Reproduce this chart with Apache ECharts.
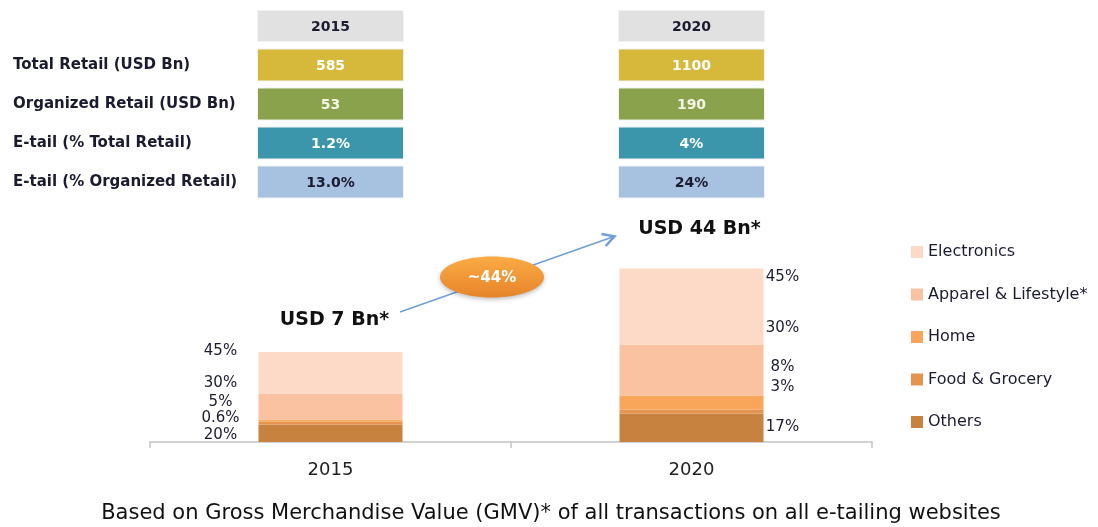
<!DOCTYPE html>
<html>
<head>
<meta charset="utf-8">
<script src="https://cdn.jsdelivr.net/npm/echarts@6/dist/echarts.min.js"></script>
<style>
  html, body { margin: 0; padding: 0; background: #fff; }
  #chart { width: 1098px; height: 527px; }
</style>
</head>
<body>
<div id="chart"></div>
<script>
// data
const years = ['2015', '2020'];
// stacking order, bottom to top
const segments = ['Others', 'Food & Grocery', 'Home', 'Apparel & Lifestyle*', 'Electronics'];
// drawn segment sizes (bars in the source are not to scale with the totals)
const size2015 = [17.5, 3, 2, 26, 41.5];
const size2020 = [28.5, 4, 14, 51, 76];
const share2015 = ['20%', '0.6%', '5%', '30%', '45%'];
const share2020 = ['17%', '3%', '8%', '30%', '45%'];
const totals = [7, 44];
const growth = '~44%';

const tableRows = ['Total Retail (USD Bn)', 'Organized Retail (USD Bn)', 'E-tail (% Total Retail)', 'E-tail (% Organized Retail)'];
const table2015 = ['585', '53', '1.2%', '13.0%'];
const table2020 = ['1100', '190', '4%', '24%'];

// styles
const FONT = 'DejaVu Sans';
const TEXT = '#1b1b30';
const segColors = ['#c8823f', '#e4944f', '#f9a65a', '#fbc2a1', '#fdd9c8'];
const rowFill = ['#e1e1e1', '#d6b93b', '#8aa24b', '#3c96ab', '#a7c1e0'];
const rowText = [TEXT, '#ffffff', '#f4f6e8', '#ffffff', TEXT];
const off2015 = [1.75, -5, -18.5, -23.5, -21.75];
const off2020 = [-0.75, -24.5, -35.5, -42, -29.5];

const chart = echarts.init(document.getElementById('chart'));

const barSeries = segments.map((name, i) => ({
  name: name,
  type: 'bar',
  stack: 'gmv',
  barWidth: 144,
  itemStyle: { color: segColors[i] },
  emphasis: { disabled: true },
  label: {
    show: true,
    color: TEXT,
    fontFamily: FONT,
    fontSize: 15,
    align: 'center'
  },
  data: [
    { value: size2015[i], label: { position: 'left', distance: 38, offset: [0, off2015[i]], formatter: share2015[i] } },
    { value: size2020[i], label: { position: 'right', distance: 19, offset: [0, off2020[i]], formatter: share2020[i] } }
  ]
}));

const tableData = [];
years.forEach((y, xi) => {
  for (let r = 0; r <= tableRows.length; r++) tableData.push([xi, r]);
});

const tableSeries = {
  type: 'custom',
  xAxisIndex: 1,
  yAxisIndex: 1,
  silent: true,
  data: tableData,
  renderItem: function (params, api) {
    const xi = api.value(0);
    const r = api.value(1);
    const p = api.coord([xi, r]);
    const vals = xi === 0 ? table2015 : table2020;
    const txt = r === 0 ? years[xi] : vals[r - 1];
    const h = r === 0 ? 31 : 32;
    return {
      type: 'group',
      children: [
        { type: 'rect', shape: { x: p[0] - 73, y: p[1] - h / 2, width: 146, height: h },
          style: { fill: rowFill[r], stroke: '#f2f2f2', lineWidth: 1 } },
        { type: 'text', style: { text: txt, x: p[0], y: p[1] + 1, align: 'center', verticalAlign: 'middle',
          fill: rowText[r], font: 'bold 14px "' + FONT + '"' } }
      ]
    };
  }
};

chart.setOption({
  animation: false,
  textStyle: { fontFamily: FONT },
  grid: [
    { left: 150, right: 226, top: 242, bottom: 85 },
    { left: 150, right: 226, top: 6.5, height: 195 }
  ],
  legend: {
    orient: 'vertical',
    left: 911,
    top: 244,
    padding: 0,
    itemWidth: 12,
    itemHeight: 12,
    itemGap: 26.5,
    icon: 'rect',
    selectedMode: false,
    data: segments.slice().reverse(),
    textStyle: { color: TEXT, fontSize: 16, fontFamily: FONT }
  },
  xAxis: [
    {
      type: 'category',
      data: years,
      gridIndex: 0,
      axisLine: { lineStyle: { color: '#c3c3c3', width: 1.5 } },
      axisTick: { show: true, length: 6, lineStyle: { color: '#c3c3c3', width: 1.5 } },
      axisLabel: { color: '#222', fontSize: 18, fontFamily: FONT, margin: 19 }
    },
    { type: 'category', data: years, gridIndex: 1, show: false }
  ],
  yAxis: [
    { type: 'value', gridIndex: 0, min: 0, max: 200, show: false },
    {
      type: 'category',
      gridIndex: 1,
      inverse: true,
      data: [''].concat(tableRows),
      axisLine: { show: false },
      axisTick: { show: false },
      splitLine: { show: false },
      axisLabel: { align: 'left', margin: 137, color: TEXT, fontSize: 15, fontWeight: 'bold', fontFamily: FONT }
    }
  ],
  series: barSeries.concat([tableSeries])
});

// totals above the stacks, growth arrow and footnote
function sum(a) { return a.reduce((s, v) => s + v, 0); }
const top15 = chart.convertToPixel({ gridIndex: 0 }, [0, sum(size2015)]);
const top20 = chart.convertToPixel({ gridIndex: 0 }, [1, sum(size2020)]);

chart.setOption({
  graphic: [
    { type: 'text', z: 10, x: top15[0] + 4, y: top15[1] - 32,
      style: { text: 'USD ' + totals[0] + ' Bn*', font: 'bold 19px "' + FONT + '"', fill: '#111', align: 'center', verticalAlign: 'middle' } },
    { type: 'line', z: 5, shape: { x1: 400, y1: 312, x2: 614, y2: 236.5 },
      style: { stroke: '#6f9fd6', lineWidth: 1.5 } },
    { type: 'polyline', z: 5, shape: { points: [[601.5, 234], [614.5, 236.3], [605.7, 246]] },
      style: { stroke: '#6f9fd6', lineWidth: 2.5, fill: null } },
    { type: 'ellipse', z: 8, shape: { cx: 492, cy: 277, rx: 52, ry: 20.5 },
      style: {
        fill: new echarts.graphic.LinearGradient(0, 0, 0, 1, [
          { offset: 0, color: '#fbab45' },
          { offset: 1, color: '#e6842a' }
        ]),
        shadowBlur: 4, shadowColor: 'rgba(0,0,0,0.25)', shadowOffsetY: 2
      } },
    { type: 'text', z: 9, x: 492, y: 278,
      style: { text: growth, font: 'bold 15px "' + FONT + '"', fill: '#fff', align: 'center', verticalAlign: 'middle' } },
    { type: 'text', z: 10, x: top20[0] + 8, y: top20[1] - 39,
      style: { text: 'USD ' + totals[1] + ' Bn*', font: 'bold 19px "' + FONT + '"', fill: '#111', align: 'center', verticalAlign: 'middle' } },
    { type: 'text', z: 10, x: 551, y: 514,
      style: { text: 'Based on Gross Merchandise Value (GMV)* of all transactions on all e-tailing websites',
        font: '21px "' + FONT + '"', fill: '#111', align: 'center', verticalAlign: 'middle' } }
  ]
});
</script>
</body>
</html>
